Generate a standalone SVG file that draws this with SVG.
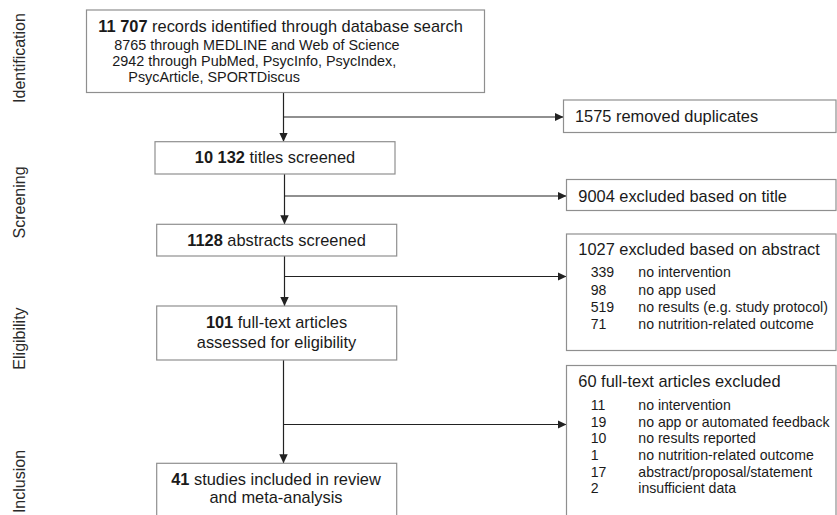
<svg xmlns="http://www.w3.org/2000/svg" width="837" height="515" viewBox="0 0 837 515">
<style>
text{font-family:"Liberation Sans",Arial,"Noto Sans",sans-serif;fill:#1a1a1a}
.box{fill:#fff;stroke:#8f8f8f;stroke-width:1.2}
.main{font-size:16.4px}
.sub{font-size:14.4px}
.item{font-size:14.1px}
.mid{text-anchor:middle}
.b{font-weight:bold}
.phase{font-size:16px;fill:#2a2a2a;text-anchor:middle}
.conn line{stroke:#222;stroke-width:1.2;fill:none}
</style>
<defs>
<marker id="ah" markerUnits="userSpaceOnUse" markerWidth="10" markerHeight="10" refX="9" refY="4.25" orient="auto">
<path d="M0,0 L9,4.25 L0,8.5 Z" fill="#222"/>
</marker>
</defs>
<rect width="837" height="515" fill="#fff"/>
<g id="phases">
<text class="phase" transform="translate(25,58) rotate(-90)">Identification</text>
<text class="phase" transform="translate(25,202.5) rotate(-90)">Screening</text>
<text class="phase" transform="translate(25,338.5) rotate(-90)">Eligibility</text>
<text class="phase" transform="translate(25,481.5) rotate(-90)">Inclusion</text>
</g>
<g class="conn" id="connectors">
<line x1="283.5" y1="92.5" x2="283.5" y2="141.7" marker-end="url(#ah)"/>
<line x1="283.5" y1="117" x2="563.5" y2="117" marker-end="url(#ah)"/>
<line x1="284.5" y1="174" x2="284.5" y2="224.3" marker-end="url(#ah)"/>
<line x1="284.5" y1="196" x2="566.5" y2="196" marker-end="url(#ah)"/>
<line x1="284.5" y1="256" x2="284.5" y2="306" marker-end="url(#ah)"/>
<line x1="284.5" y1="276.5" x2="566.5" y2="276.5" marker-end="url(#ah)"/>
<line x1="283.5" y1="360" x2="283.5" y2="463.3" marker-end="url(#ah)"/>
<line x1="283.5" y1="424.5" x2="566.5" y2="424.5" marker-end="url(#ah)"/>
</g>
<g id="identified">
<rect class="box" x="86.5" y="10" width="398" height="82.5"/>
<text class="main" x="98.3" y="31.7"><tspan class="b">11 707</tspan> records identified through database search</text>
<text class="sub" x="114.3" y="49.5">8765 through MEDLINE and Web of Science</text>
<text class="sub" x="112.3" y="65.7">2942 through PubMed, PsycInfo, PsycIndex,</text>
<text class="sub" x="128.3" y="81.7">PsycArticle, SPORTDiscus</text>
</g>
<g id="duplicates">
<rect class="box" x="563.5" y="100" width="272.5" height="32.5"/>
<text class="main" x="575" y="121.7">1575 removed duplicates</text>
</g>
<g id="titles">
<rect class="box" x="155" y="141.7" width="240" height="32.3"/>
<text class="main mid" x="275" y="163.3"><tspan class="b">10 132</tspan> titles screened</text>
</g>
<g id="excluded-title">
<rect class="box" x="566.5" y="179.5" width="269.5" height="31"/>
<text class="main" x="578.3" y="201.7">9004 excluded based on title</text>
</g>
<g id="abstracts">
<rect class="box" x="156.7" y="224.3" width="240" height="31.7"/>
<text class="main mid" x="276.5" y="246"><tspan class="b">1128</tspan> abstracts screened</text>
</g>
<g id="excluded-abstract">
<rect class="box" x="566.5" y="234" width="269.5" height="116.5"/>
<text class="main" x="578.3" y="255">1027 excluded based on abstract</text>
<text class="item" x="590.7" y="277.3">339</text><text class="item" x="638.3" y="277.3">no intervention</text>
<text class="item" x="590.7" y="294.8">98</text><text class="item" x="638.3" y="294.8">no app used</text>
<text class="item" x="590.7" y="312.3">519</text><text class="item" x="638.3" y="312.3">no results (e.g. study protocol)</text>
<text class="item" x="590.7" y="329.3">71</text><text class="item" x="638.3" y="329.3">no nutrition-related outcome</text>
</g>
<g id="fulltext">
<rect class="box" x="156.7" y="306" width="240" height="54"/>
<text class="main mid" x="276.5" y="328.3"><tspan class="b">101</tspan> full-text articles</text>
<text class="main mid" x="276.5" y="348.3">assessed for eligibility</text>
</g>
<g id="excluded-fulltext">
<rect class="box" x="566.5" y="365.5" width="269.5" height="170"/>
<text class="main" x="578.3" y="387.3">60 full-text articles excluded</text>
<text class="item" x="590.7" y="410">11</text><text class="item" x="638.3" y="410">no intervention</text>
<text class="item" x="590.7" y="426.7">19</text><text class="item" x="638.3" y="426.7">no app or automated feedback</text>
<text class="item" x="590.7" y="443.3">10</text><text class="item" x="638.3" y="443.3">no results reported</text>
<text class="item" x="590.7" y="460">1</text><text class="item" x="638.3" y="460">no nutrition-related outcome</text>
<text class="item" x="590.7" y="476.7">17</text><text class="item" x="638.3" y="476.7">abstract/proposal/statement</text>
<text class="item" x="590.7" y="493.3">2</text><text class="item" x="638.3" y="493.3">insufficient data</text>
</g>
<g id="included">
<rect class="box" x="156.7" y="463.3" width="240" height="70"/>
<text class="main mid" x="276" y="485"><tspan class="b">41</tspan> studies included in review</text>
<text class="main mid" x="276" y="503.3">and meta-analysis</text>
</g>
</svg>
